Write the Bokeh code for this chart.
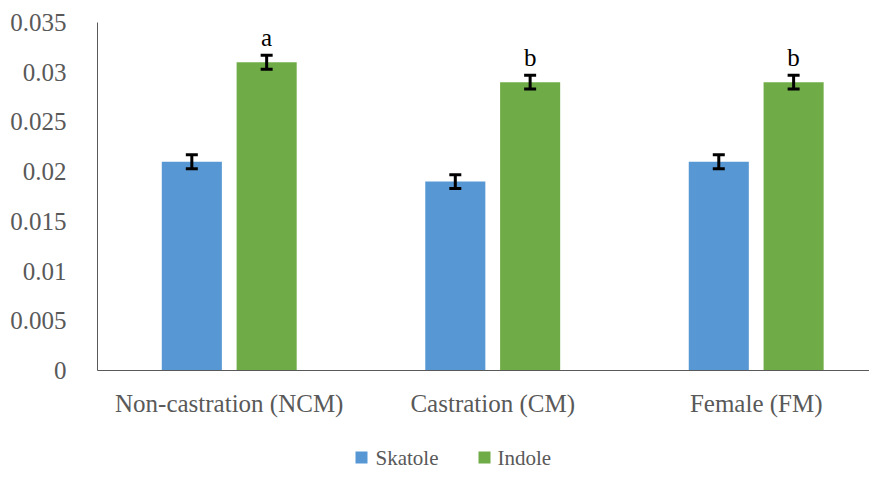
import numpy as np
from bokeh.plotting import figure
from bokeh.layouts import column
from bokeh.models import Range1d, FixedTicker, Whisker, TeeHead, ColumnDataSource, LabelSet
from bokeh.core.properties import value
from bokeh.embed import file_html
from bokeh.resources import INLINE

categories = ["Non-castration (NCM)", "Castration (CM)", "Female (FM)"]
skatole = [0.021, 0.019, 0.021]
skatole_err = [0.0007, 0.0007, 0.0007]
indole = [0.031, 0.029, 0.029]
indole_err = [0.0007, 0.0007, 0.0007]
letters = ["a", "b", "b"]
series_names = ["Skatole", "Indole"]
y_ticks = [0, 0.005, 0.01, 0.015, 0.02, 0.025, 0.03, 0.035]
y_tick_labels = ["0", "0.005", "0.01", "0.015", "0.02", "0.025", "0.03", "0.035"]

FONT = "Liberation Serif"
GRAY = "#595959"
BLUE = "#5797d3"
GREEN = "#6fac47"
OFF = 0.142
BW = 0.228

xc = np.arange(len(categories)) + 0.5
sk = ColumnDataSource(dict(x=xc - OFF, top=skatole,
                           lo=np.array(skatole) - np.array(skatole_err),
                           hi=np.array(skatole) + np.array(skatole_err)))
ind = ColumnDataSource(dict(x=xc + OFF, top=indole,
                            lo=np.array(indole) - np.array(indole_err),
                            hi=np.array(indole) + np.array(indole_err),
                            lab=letters))

p = figure(width=869, height=430, output_backend="svg", toolbar_location=None,
           x_range=Range1d(0, 2.93), y_range=Range1d(0, 0.035),
           min_border_left=97, min_border_right=0, min_border_top=22, min_border_bottom=60)
p.outline_line_color = None
p.grid.visible = False
p.background_fill_color = "white"
p.border_fill_color = "white"

p.vbar(x="x", top="top", width=BW, source=sk, fill_color=BLUE, line_color=None)
p.vbar(x="x", top="top", width=BW, source=ind, fill_color=GREEN, line_color=None)

for src in (sk, ind):
    w = Whisker(base="x", lower="lo", upper="hi", source=src, level="overlay",
                line_color="black", line_width=3,
                upper_head=TeeHead(size=12, line_width=3, line_color="black"),
                lower_head=TeeHead(size=12, line_width=3, line_color="black"))
    p.add_layout(w)

p.add_layout(LabelSet(x="x", y="hi", text="lab", source=ind, text_align="center",
                      text_baseline="bottom", y_offset=4, text_font=value(FONT),
                      text_font_size=value("25px"), text_color="black"))

p.xaxis.ticker = FixedTicker(ticks=list(xc))
p.xaxis.major_label_overrides = {float(x): c for x, c in zip(xc, categories)}
p.yaxis.ticker = FixedTicker(ticks=y_ticks)
p.yaxis.major_label_overrides = {t: l for t, l in zip(y_ticks, y_tick_labels)}

for ax in (p.xaxis, p.yaxis):
    ax.major_tick_line_color = None
    ax.minor_tick_line_color = None
    ax.axis_line_color = GRAY
    ax.axis_line_width = 1
    ax.major_label_text_font = FONT
    ax.major_label_text_font_size = "25px"
    ax.major_label_text_color = GRAY
p.yaxis.major_label_standoff = 25
p.xaxis.major_label_standoff = 13

# legend strip (page-pixel coordinates, frame aligned with main plot)
q = figure(width=869, height=39, output_backend="svg", toolbar_location=None,
           x_axis_type=None, y_axis_type=None, x_range=Range1d(97, 869), y_range=Range1d(0, 39),
           min_border_left=97, min_border_right=0, min_border_top=0, min_border_bottom=0)
q.outline_line_color = None
q.grid.visible = False
leg = ColumnDataSource(dict(gx=[361, 484], tx=[375, 497], y=[12, 12],
                            color=[BLUE, GREEN], name=series_names))
q.scatter(x="gx", y="y", source=leg, marker="square", size=12, fill_color="color", line_color=None)
q.add_layout(LabelSet(x="tx", y="y", text="name", source=leg, text_align="left",
                      text_baseline="middle", text_font=value(FONT),
                      text_font_size=value("21px"), text_color=GRAY))

open("out.html", "w").write(file_html(column(p, q, spacing=0), INLINE))
